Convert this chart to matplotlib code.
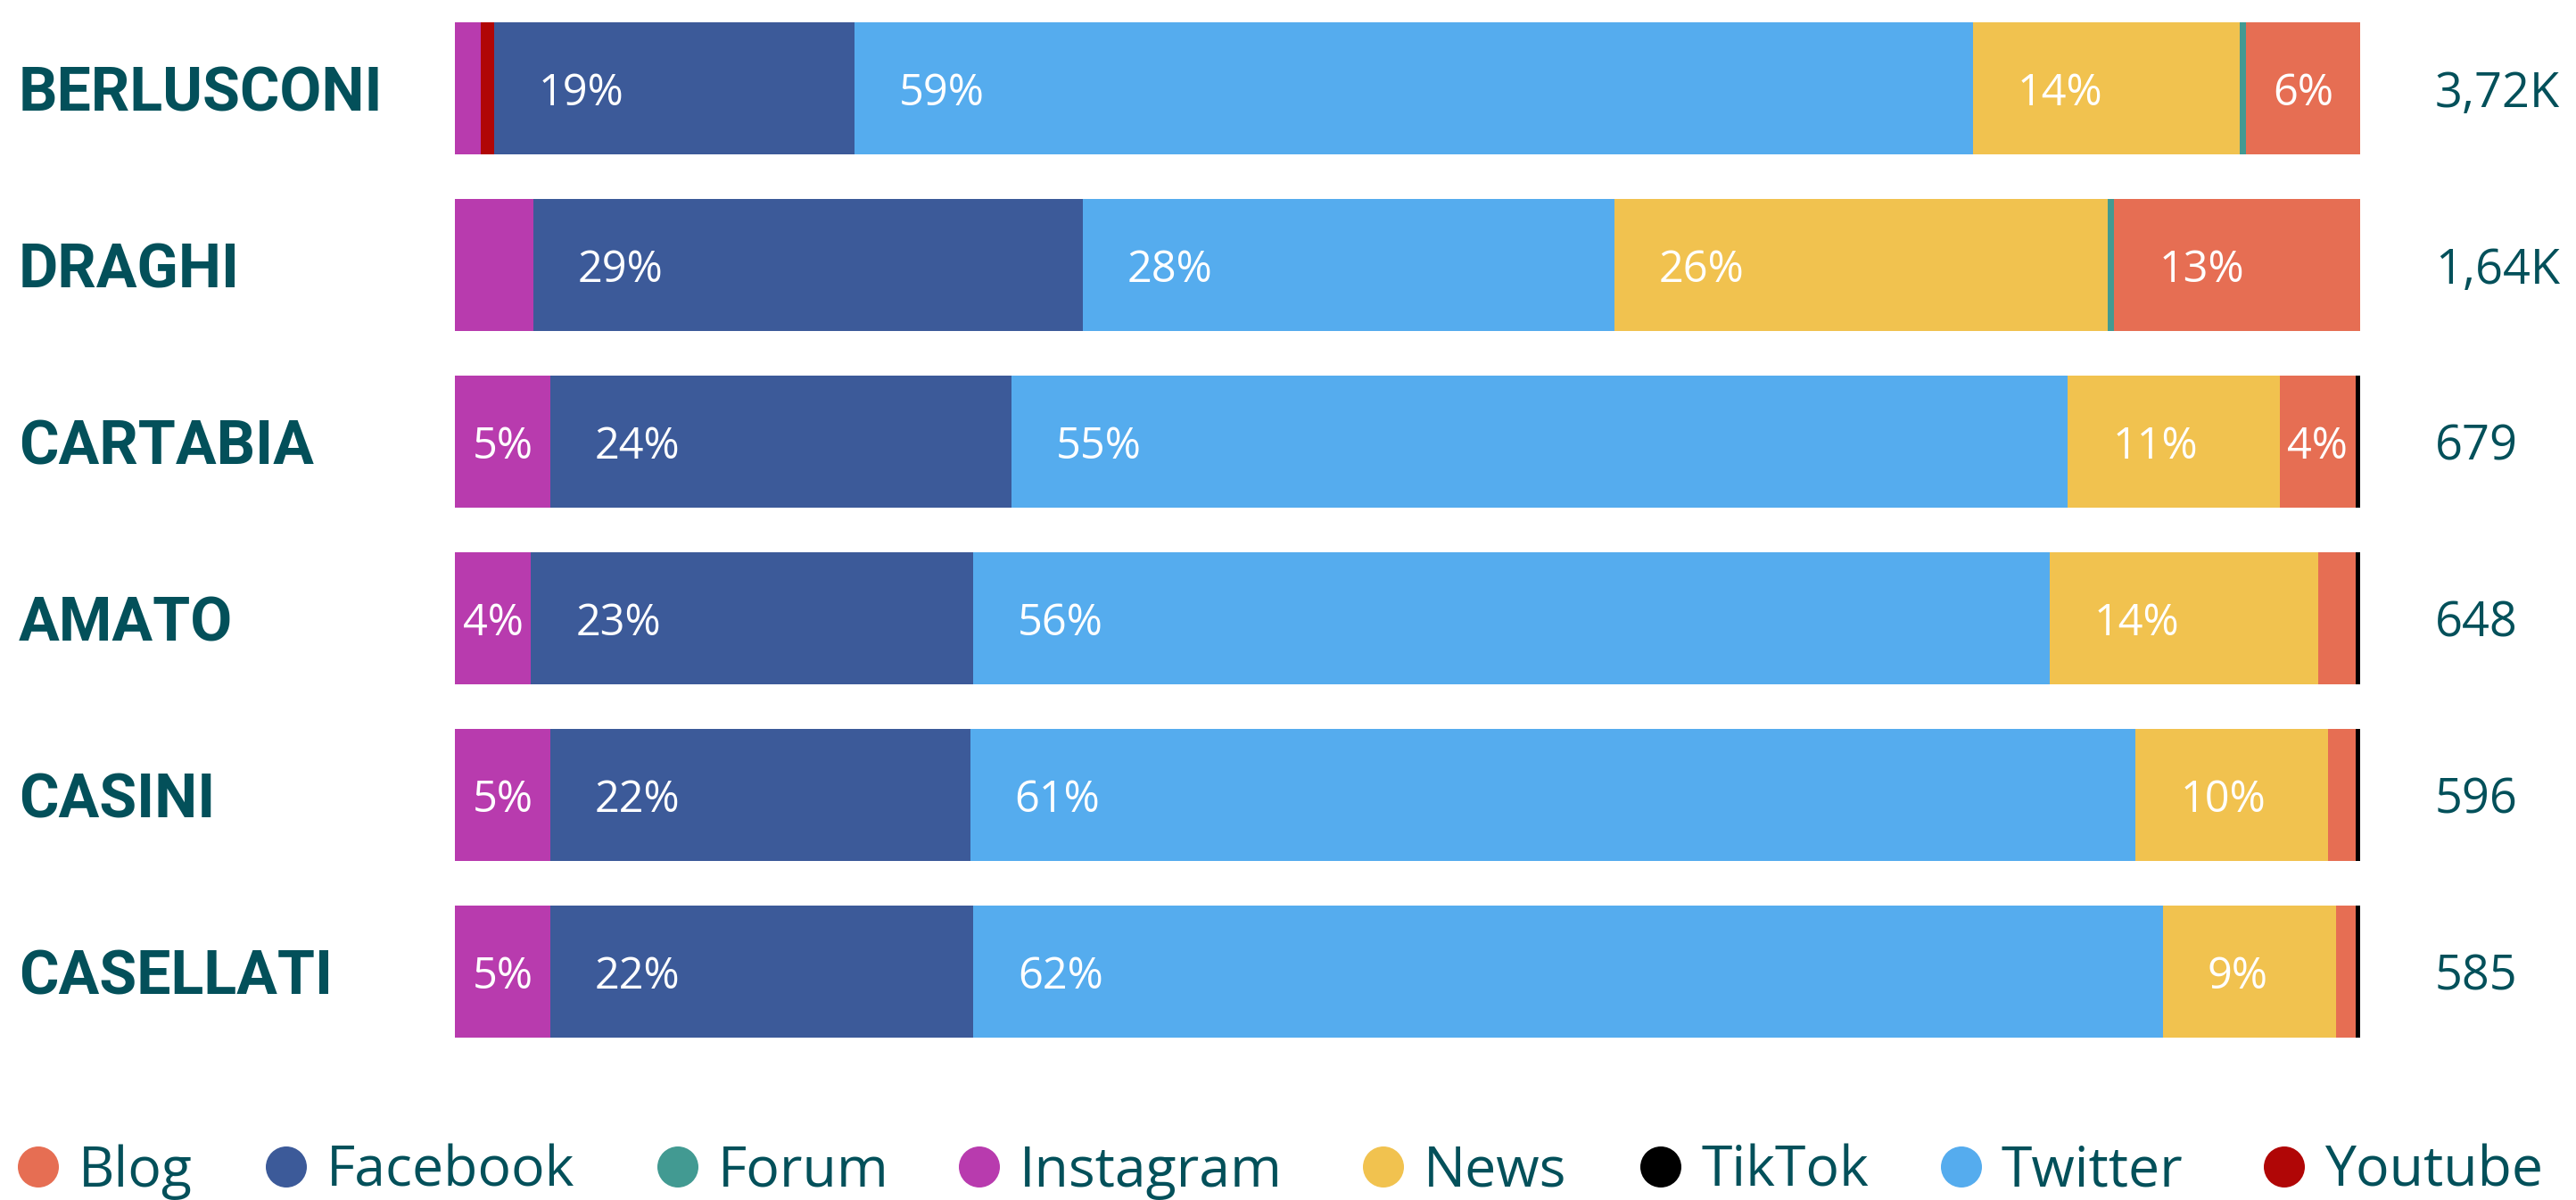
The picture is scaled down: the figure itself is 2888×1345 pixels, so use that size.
import matplotlib
matplotlib.use("Agg")
import matplotlib.pyplot as plt
import numpy as np
from matplotlib.patches import Circle
from matplotlib.transforms import blended_transform_factory

# politicians and total mentions
names = ["BERLUSCONI", "DRAGHI", "CARTABIA", "AMATO", "CASINI", "CASELLATI"]
totals = ["3,72K", "1,64K", "679", "648", "596", "585"]

# share of mentions per source (%), in stacking order
instagram = [1.36, 4.12, 5.0, 4.0, 5.0, 5.0]
youtube = [0.70, 0, 0, 0, 0, 0]
facebook = [18.9, 28.84, 24.2, 23.2, 22.05, 22.2]
twitter = [58.7, 27.9, 55.4, 56.5, 61.2, 62.45]
news = [14.0, 25.9, 11.1, 14.1, 10.1, 9.1]
forum = [0.33, 0.33, 0, 0, 0, 0]
blog = [6.0, 12.9, 4.0, 1.97, 1.45, 1.03]
tiktok = [0, 0, 0.23, 0.23, 0.23, 0.23]

stack = [("Instagram", instagram), ("Youtube", youtube), ("Facebook", facebook),
         ("Twitter", twitter), ("News", news), ("Forum", forum),
         ("Blog", blog), ("TikTok", tiktok)]

colors = {
    "Blog": "#E66E53", "Facebook": "#3C5A99", "Forum": "#429A92",
    "Instagram": "#B83BAE", "News": "#F1C24F", "TikTok": "#000000",
    "Twitter": "#55ACEE", "Youtube": "#B00606",
}
legend_order = ["Blog", "Facebook", "Forum", "Instagram", "News", "TikTok", "Twitter", "Youtube"]
legend_x = [43, 321, 760, 1098, 1551, 1862, 2199, 2561]  # circle centres, px

skip_labels = [("DRAGHI", "Instagram")]
min_label = 4

teal = "#03505A"
W, H = 2888, 1345
DPI = 200

fig = plt.figure(figsize=(W / DPI, H / DPI), dpi=DPI)
fig.patch.set_facecolor("white")

# bars axes: x 510..2646 px, y 0..1188 px
ax = fig.add_axes([510 / W, 1 - 1188 / H, 2136 / W, 1188 / H])
ax.set_xlim(0, 100)
ax.set_ylim(len(names) - 0.5, -0.5)
ax.axis("off")

vals = np.array([s[1] for s in stack], dtype=float)
vals = vals / vals.sum(axis=0) * 100
y = np.arange(len(names))

renderer = fig.canvas.get_renderer()
px_per_unit = 2136 / 100
label_pad = 50 / px_per_unit

left = np.zeros(len(names))
for k, (src, _) in enumerate(stack):
    w = vals[k]
    ax.barh(y, w, left=left, height=148 / 198, color=colors[src], linewidth=0)
    for i in range(len(names)):
        if round(w[i]) < min_label or (names[i], src) in skip_labels:
            continue
        t = ax.text(left[i], y[i], f"{round(w[i])}%", ha="left", va="center_baseline",
                    color="white", fontsize=17.5, family="Open Sans")
        tw = t.get_window_extent(renderer).width / px_per_unit
        t.set_x(left[i] + min(label_pad, (w[i] - tw) / 2))
    left += w

# names on the left and totals on the right
tr = blended_transform_factory(fig.transFigure, ax.transData)
for i, n in enumerate(names):
    ax.text(21 / W, y[i], n, transform=tr, ha="left", va="center_baseline",
            fontsize=24.5, fontweight="bold", family="Roboto", color=teal)
    ax.text(2730 / W, y[i], totals[i], transform=tr, ha="left", va="center_baseline",
            fontsize=19.5, family="Open Sans", color=teal)

# legend along the bottom, in pixel coordinates
ov = fig.add_axes([0, 0, 1, 1])
ov.set_xlim(0, W)
ov.set_ylim(H, 0)
ov.axis("off")
ov.patch.set_alpha(0)
for src, cx in zip(legend_order, legend_x):
    ov.add_patch(Circle((cx, 1308), 23, color=colors[src], linewidth=0))
    ov.text(cx + 45, 1330, src, ha="left", va="baseline", fontsize=22.5,
            family="Open Sans", color=teal)

fig.savefig("out.png", dpi=DPI, facecolor="white")
